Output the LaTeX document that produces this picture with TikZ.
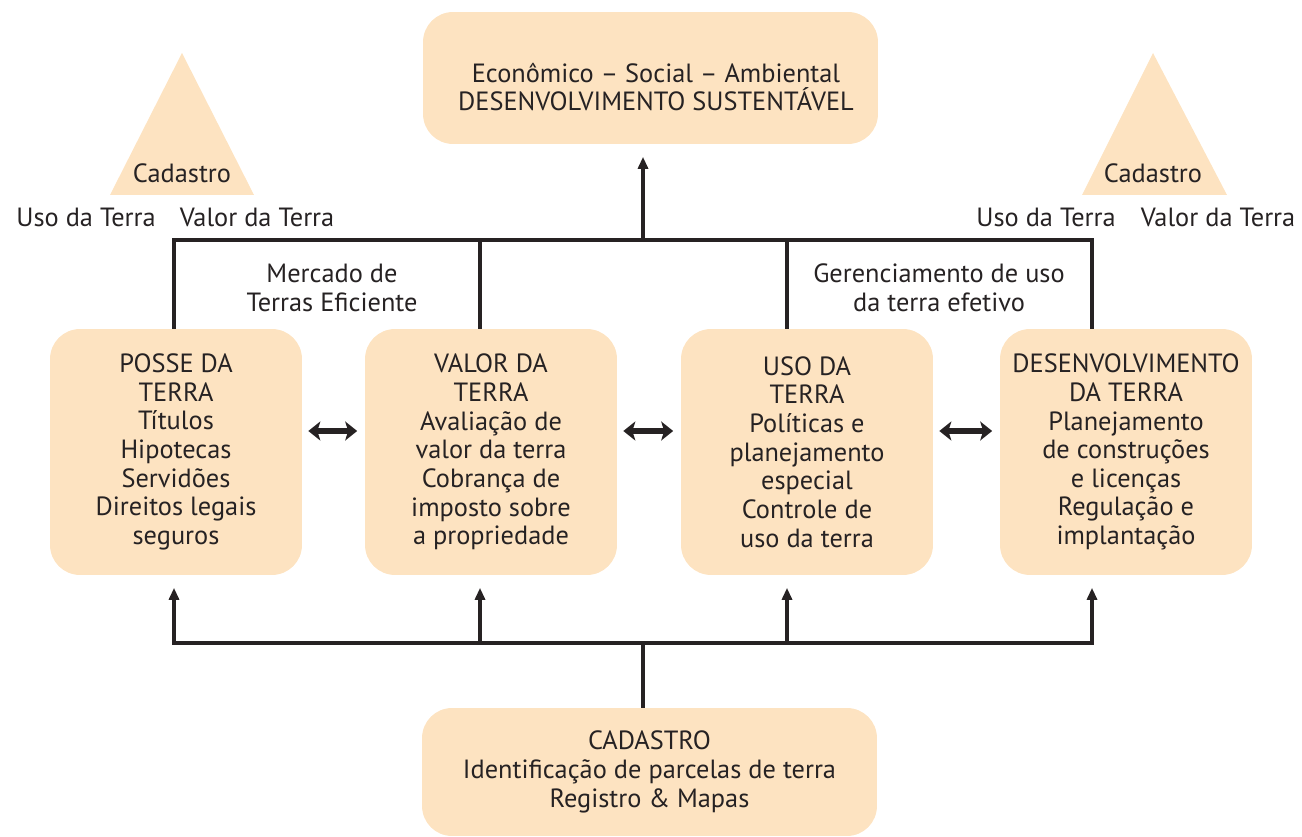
\documentclass[tikz,border=0pt]{standalone}
\usepackage{fontspec}
\setmainfont{PT Sans}
\usetikzlibrary{arrows.meta}
\definecolor{pele}{RGB}{253,227,193}
\definecolor{tinta}{RGB}{38,34,35}
\tikzset{
	caixa/.style = {fill = pele, rounded corners = 0.6cm, minimum width = 5.04cm, minimum height = 4.92cm,
		align = center, text = tinta, font = \fontsize{15}{16.3}\selectfont, inner sep = 0pt},
	texto/.style = {align = center, text = tinta, font = \fontsize{15}{16.3}\selectfont, inner sep = 0pt},
	liga/.style = {line width = 2.2pt, draw = tinta},
	seta/.style = {liga, -{Triangle[length = 0.24cm, width = 0.2cm]}, shorten > = 0.25cm},
	dupla/.style = {line width = 3pt, draw = tinta, shorten < = 0.12cm, shorten > = 0.15cm,
		{Stealth[length = 0.24cm, width = 0.38cm, inset = 0.06cm]}-{Stealth[length = 0.24cm, width = 0.38cm, inset = 0.06cm]}}
}
\begin{document}
\begin{tikzpicture}[x = 0.02cm, y = -0.02cm]
		\useasboundingbox (0, 0) rectangle (1302, 837);
		%%%%%%%%% caixas
		\node[caixa, minimum width = 9.1cm, minimum height = 2.64cm] (sust) at (650.5, 78) {};
		\node[texto] (sustxt) at (656, 87) {Econômico -- Social -- Ambiental\\DESENVOLVIMENTO SUSTENTÁVEL};
		\node[caixa] (posse) at (176, 452) {POSSE DA\\TERRA\\Títulos\\Hipotecas\\Servidões\\Direitos legais\\seguros};
		\node[caixa] (valor) at (491, 452) {VALOR DA\\TERRA\\Avaliação de\\valor da terra\\Cobrança de\\imposto sobre\\a propriedade};
		\node[caixa] (uso) at (807, 452) {USO DA\\TERRA\\Políticas e\\planejamento\\especial\\Controle de\\uso da terra};
		\node[caixa] (desenv) at (1126, 452) {DESENVOLVIMENTO\\DA TERRA\\Planejamento\\de construções\\e licenças\\Regulação e\\implantação};
		\node[caixa, minimum width = 9.1cm, minimum height = 2.56cm] (cad) at (649.5, 772) {CADASTRO\\Identificação de parcelas de terra\\Registro \& Mapas};
		%%%%%%%%% triangulos
		\fill[pele] (182, 53) -- (254, 195) -- (110, 195) -- cycle;
		\fill[pele] (1153, 53) -- (1227, 195) -- (1082, 195) -- cycle;
		\node[texto] (cadE) at (182, 173) {Cadastro};
		\node[texto] (usoE) at (86, 217) {Uso da Terra};
		\node[texto] (valE) at (257, 217) {Valor da Terra};
		\node[texto] (cadD) at (1153, 173) {Cadastro};
		\node[texto] (usoD) at (1046, 217) {Uso da Terra};
		\node[texto] (valD) at (1218, 217) {Valor da Terra};
		\node[texto] (merc) at (332, 288) {Mercado de\\Terras Eficiente};
		\node[texto] (ger) at (939, 288) {Gerenciamento de uso\\da terra efetivo};
		%%%%%%%%% ligacoes
		\coordinate (bsup) at (643, 240);
		\coordinate (binf) at (643, 643);
		\coordinate (h1) at (174, 0);
		\coordinate (h2) at (480, 0);
		\coordinate (h3) at (787, 0);
		\coordinate (h4) at (1092, 0);
		\draw[liga] (posse.north -| h1) |- (bsup) -| (desenv.north -| h4);
		\draw[liga] (valor.north -| h2) -- (bsup -| h2);
		\draw[liga] (uso.north -| h3) -- (bsup -| h3);
		\draw[seta] (bsup) -- (sust.south -| bsup);
		\draw[liga] (cad.north -| binf) -- (binf);
		\draw[seta] (binf) -| (posse.south -| h1);
		\draw[seta] (binf) -| (desenv.south -| h4);
		\draw[seta] (binf -| h2) -- (valor.south -| h2);
		\draw[seta] (binf -| h3) -- (uso.south -| h3);
		%%%%%%%%% setas duplas
		\draw[dupla] ([yshift = 0.42cm]posse.east) -- ([yshift = 0.42cm]valor.west);
		\draw[dupla] ([yshift = 0.42cm]valor.east) -- ([yshift = 0.42cm]uso.west);
		\draw[dupla] ([yshift = 0.42cm]uso.east) -- ([yshift = 0.42cm]desenv.west);
	\end{tikzpicture}
\end{document}
